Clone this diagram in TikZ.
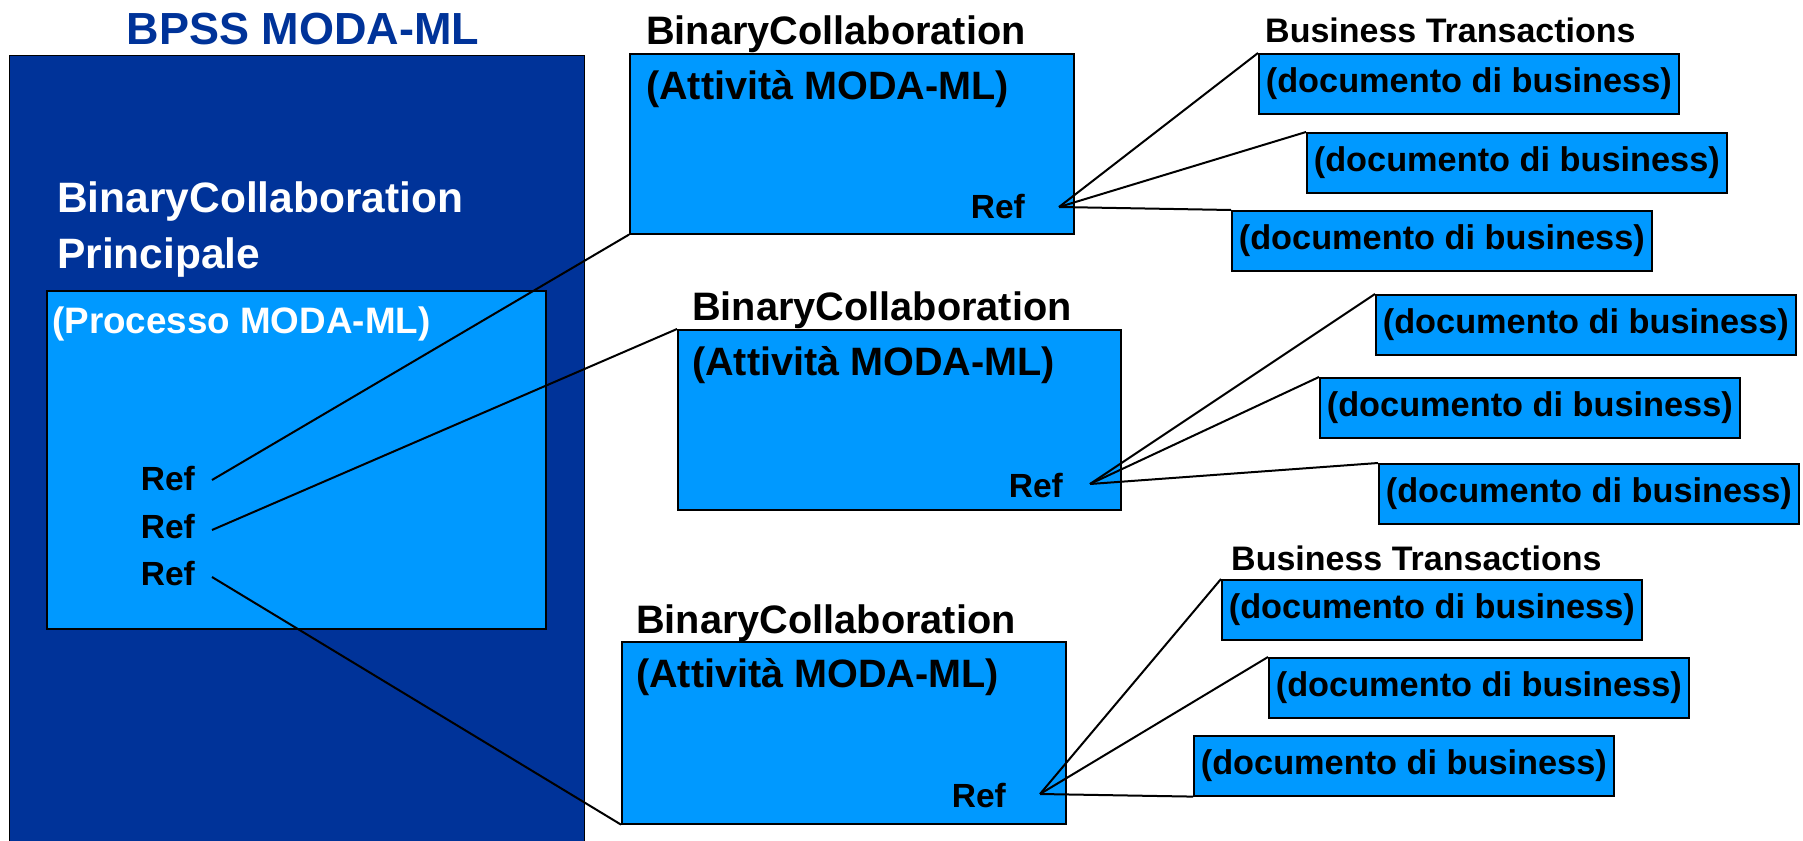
\documentclass[tikz,border=0pt]{standalone}
\usepackage{fontspec}
\setmainfont{Liberation Sans}
\definecolor{navy}{HTML}{003399}
\definecolor{sky}{HTML}{0099FF}
\newcommand{\fsz}[1]{\fontsize{#1}{#1}\selectfont\bfseries}
\begin{document}
\begin{tikzpicture}[x=1pt,y=-1pt,
  panel/.style={draw=black, line width=1.2pt, rectangle, inner sep=0pt, anchor=north west},
  bcbox/.style={panel, fill=sky, line width=1.6pt},
  doc/.style={panel, fill=sky, line width=1.6pt, minimum width=420pt, minimum height=60pt, font=\fsz{34.3}},
  lbl/.style={inner sep=0pt, anchor=base west},
  conn/.style={draw=black, line width=2pt}]
\useasboundingbox (0,0) rectangle (1803,840);
% main container
\node[panel, fill=navy, minimum width=575pt, minimum height=790pt] (outer) at (9,55) {};
\node[inner sep=0pt, anchor=base, text=navy, font=\fsz{45}] (title) at (303,45) {BPSS MODA-ML};
\node[lbl, text=white, font=\fsz{42.5}] (bcp1) at (57,212) {BinaryCollaboration};
\node[lbl, text=white, font=\fsz{42.5}] (bcp2) at (57,268) {Principale};
\node[bcbox, minimum width=499pt, minimum height=338pt] (inner) at (46,290) {};
\node[lbl, text=white, font=\fsz{36.8}] (proc) at (52,333) {(Processo MODA-ML)};
\node[lbl, anchor=base east, font=\fsz{33.5}] (lref1) at (195,490) {Ref};
\node[lbl, anchor=base east, font=\fsz{33.5}] (lref2) at (195,538) {Ref};
\node[lbl, anchor=base east, font=\fsz{33.5}] (lref3) at (195,585) {Ref};
\coordinate (l1) at (212,480);
\coordinate (l2) at (212,530);
\coordinate (l3) at (212,577);
% binary collaborations
\node[lbl, font=\fsz{39.7}] (bct1) at (646,45) {BinaryCollaboration};
\node[bcbox, minimum width=444pt, minimum height=180pt] (bc1) at (629,53) {};
\node[lbl, font=\fsz{39.6}] (att1) at (646,100) {(Attività MODA-ML)};
\node[lbl, anchor=base east, font=\fsz{33.5}] (ref1) at (1025,218) {Ref};
\coordinate (r1) at (1059,207);

\node[lbl, font=\fsz{39.7}] (bct2) at (692,320) {BinaryCollaboration};
\node[bcbox, minimum width=443pt, minimum height=180pt] (bc2) at (677,329) {};
\node[lbl, font=\fsz{39.6}] (att2) at (692,375) {(Attività MODA-ML)};
\node[lbl, anchor=base east, font=\fsz{33.5}] (ref2) at (1063,497) {Ref};
\coordinate (r2) at (1090,484);

\node[lbl, font=\fsz{39.7}] (bct3) at (636,633) {BinaryCollaboration};
\node[bcbox, minimum width=444pt, minimum height=182pt] (bc3) at (621,641) {};
\node[lbl, font=\fsz{39.6}] (att3) at (636,687) {(Attività MODA-ML)};
\node[lbl, anchor=base east, font=\fsz{33.5}] (ref3) at (1006,807) {Ref};
\coordinate (r3) at (1040,794);
% business transactions
\node[lbl, font=\fsz{34}] (bt1) at (1265,43) {Business Transactions};
\node[lbl, font=\fsz{34}] (bt3) at (1231,570) {Business Transactions};
\node[doc] (d1) at (1258,53) {(documento di business)};
\node[doc] (d2) at (1306,132) {(documento di business)};
\node[doc] (d3) at (1231,210) {(documento di business)};
\node[doc] (d4) at (1375,294) {(documento di business)};
\node[doc] (d5) at (1319,377) {(documento di business)};
\node[doc] (d6) at (1378,463) {(documento di business)};
\node[doc] (d7) at (1221,579) {(documento di business)};
\node[doc] (d8) at (1268,657) {(documento di business)};
\node[doc] (d9) at (1193,735) {(documento di business)};
% connectors
\draw[conn] (l1) -- (bc1.south west);
\draw[conn] (l2) -- (bc2.north west);
\draw[conn] (l3) -- (bc3.south west);
\draw[conn] (r1) -- (d1.north west);
\draw[conn] (r1) -- (d2.north west);
\draw[conn] (r1) -- (d3.north west);
\draw[conn] (r2) -- (d4.north west);
\draw[conn] (r2) -- (d5.north west);
\draw[conn] (r2) -- (d6.north west);
\draw[conn] (r3) -- (d7.north west);
\draw[conn] (r3) -- (d8.north west);
\draw[conn] (r3) -- (d9.south west);
\end{tikzpicture}
\end{document}
